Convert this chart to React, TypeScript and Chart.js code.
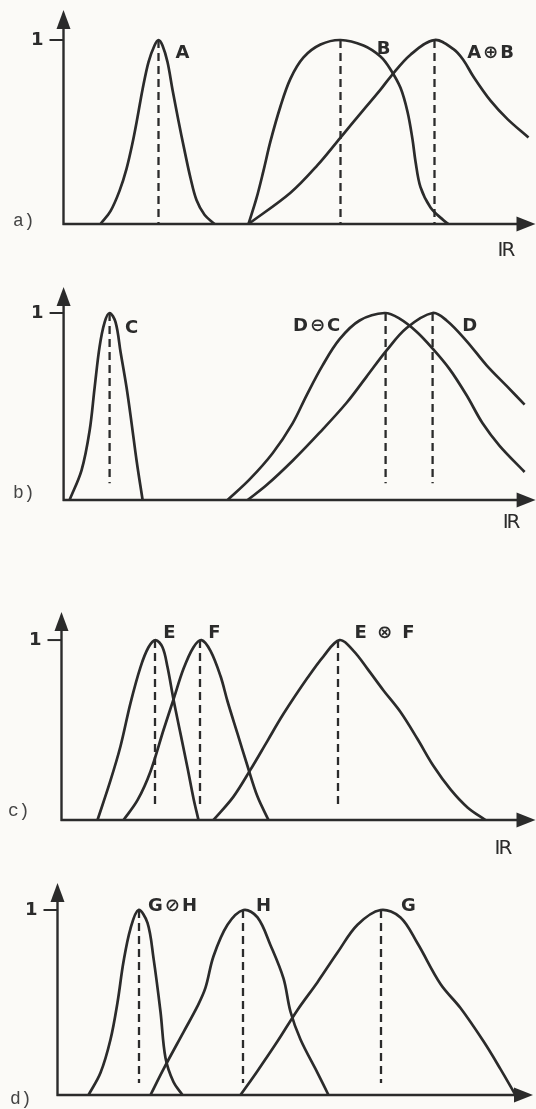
import React, { useEffect, useRef } from "react";
import { Chart, registerables } from "chart.js";

Chart.register(...registerables);

const INK = "#2b2b2b";
const PAPER = "#fbfaf7";

// ---------- panel tags ----------
const PANEL_TAGS = ["a)", "b)", "c)", "d)"];
const AXIS_NAME = "IR";

// ---------- a) A, B, A⊕B ----------
const A_x = [37, 47, 56, 63, 69, 74, 79, 85, 91, 95, 99, 104, 109, 115, 121, 127, 133, 141, 151];
const A_y = [0, 0.07, 0.18, 0.3, 0.44, 0.58, 0.73, 0.88, 0.97, 1, 0.97, 0.88, 0.73, 0.56, 0.4, 0.25, 0.13, 0.05, 0];
const B_x = [185, 193, 200, 207, 217, 227, 240, 257, 277, 300, 317, 327, 337, 344, 349, 352, 357, 367, 380, 385];
const B_y = [0, 0.14, 0.29, 0.45, 0.64, 0.79, 0.905, 0.975, 1, 0.97, 0.91, 0.84, 0.74, 0.61, 0.46, 0.34, 0.2, 0.09, 0.02, 0];
const AplusB_x = [185, 227, 254, 277, 300, 317, 327, 347, 371, 390, 400, 410, 427, 444, 465];
const AplusB_y = [0, 0.17, 0.32, 0.47, 0.62, 0.73, 0.8, 0.92, 1, 0.95, 0.89, 0.8, 0.67, 0.57, 0.47];
const A_PEAKS = [95, 277, 371];
const A_LABELS = ["A", "B", "A⊕B"];
const A_LABEL_X = [119, 320, 427];
const A_LABEL_Y = [0.93, 0.95, 0.93];

// ---------- b) C, D⊖C, D ----------
const C_x = [6, 18, 26, 31, 36, 41, 46, 52, 57, 63, 68, 73, 79];
const C_y = [0, 0.16, 0.37, 0.6, 0.82, 0.95, 1, 0.95, 0.79, 0.6, 0.41, 0.21, 0];
const DminusC_x = [164, 186, 209, 229, 243, 259, 276, 296, 321, 336, 353, 369, 386, 403, 419, 436, 461];
const DminusC_y = [0, 0.11, 0.25, 0.41, 0.56, 0.72, 0.86, 0.96, 1, 0.97, 0.9, 0.81, 0.7, 0.56, 0.41, 0.29, 0.15];
const D_x = [184, 203, 229, 256, 283, 303, 323, 343, 369, 383, 403, 423, 443, 461];
const D_y = [0, 0.08, 0.21, 0.36, 0.52, 0.66, 0.8, 0.92, 1, 0.96, 0.85, 0.72, 0.61, 0.51];
const B_PEAKS = [46, 322, 369];
const B_LABELS = ["C", "D⊖C", "D"];
const B_LABEL_X = [68, 253, 406];
const B_LABEL_Y = [0.92, 0.93, 0.93];

// ---------- c) E, F, E⊗F ----------
const E_x = [36, 49, 59, 69, 79, 87, 94, 101, 106, 112, 119, 126, 132, 137];
const E_y = [0, 0.22, 0.41, 0.65, 0.85, 0.96, 1, 0.96, 0.85, 0.67, 0.48, 0.29, 0.12, 0];
const F_x = [62, 76, 89, 102, 112, 122, 132, 140, 149, 159, 166, 176, 186, 196, 207];
const F_y = [0, 0.11, 0.27, 0.5, 0.67, 0.84, 0.96, 1, 0.94, 0.8, 0.66, 0.48, 0.3, 0.13, 0];
const EtimesF_x = [152, 172, 189, 206, 222, 246, 262, 278, 292, 306, 322, 339, 356, 372, 389, 406, 424];
const EtimesF_y = [0, 0.13, 0.28, 0.44, 0.59, 0.79, 0.91, 1, 0.94, 0.84, 0.72, 0.6, 0.45, 0.3, 0.17, 0.07, 0];
const C_PEAKS = [93.5, 138.5, 276.5];
const C_LABELS = ["E", "F", "E ⊗ F"];
const C_LABEL_X = [108, 153, 323];
const C_LABEL_Y = [1.04, 1.04, 1.04];

// ---------- d) G⊘H, H, G ----------
const GdivH_x = [31, 43, 53, 60, 66, 73, 81, 90, 96, 103, 108, 116, 125];
const GdivH_y = [0, 0.12, 0.3, 0.5, 0.72, 0.9, 1, 0.93, 0.74, 0.45, 0.2, 0.07, 0];
const H_x = [93, 106, 126, 140, 148, 156, 170, 186, 200, 213, 226, 233, 243, 260, 271];
const H_y = [0, 0.14, 0.34, 0.48, 0.58, 0.75, 0.92, 1, 0.96, 0.81, 0.63, 0.45, 0.3, 0.12, 0];
const G_x = [183, 200, 220, 240, 260, 280, 300, 323, 343, 360, 383, 403, 426, 443, 458];
const G_y = [0, 0.13, 0.29, 0.46, 0.61, 0.77, 0.92, 1, 0.96, 0.82, 0.6, 0.47, 0.29, 0.14, 0];
const D_PEAKS = [81.5, 185.5, 323.5];
const D_LABELS = ["G⊘H", "H", "G"];
const D_LABEL_X = [115, 206, 351];
const D_LABEL_Y = [1.02, 1.02, 1.02];

const DASH_BOTTOM = [0, 0.09, 0.07, 0.065];

// ---------- layout (not data) ----------
const PANELS = [
  {
    top: 0, height: 270, pad: { left: 63.5, right: 0.5, top: 10, bottom: 46 }, xMax: 472, yMax: 1.163,
    curves: [[A_x, A_y], [B_x, B_y], [AplusB_x, AplusB_y]], peaks: A_PEAKS,
    labels: A_LABELS, labelX: A_LABEL_X, labelY: A_LABEL_Y,
    tagPos: [13, -3], namePos: [-30, 27],
  },
  {
    top: 270, height: 300, pad: { left: 63.6, right: 0.4, top: 17, bottom: 70 }, xMax: 472, yMax: 1.139,
    curves: [[C_x, C_y], [DminusC_x, DminusC_y], [D_x, D_y]], peaks: B_PEAKS,
    labels: B_LABELS, labelX: B_LABEL_X, labelY: B_LABEL_Y,
    tagPos: [13, -7], namePos: [-25, 23],
  },
  {
    top: 570, height: 300, pad: { left: 61.5, right: 0.5, top: 42, bottom: 50 }, xMax: 474, yMax: 1.156,
    curves: [[E_x, E_y], [F_x, F_y], [EtimesF_x, EtimesF_y]], peaks: C_PEAKS,
    labels: C_LABELS, labelX: C_LABEL_X, labelY: C_LABEL_Y,
    tagPos: [8, -9], namePos: [-33, 29],
  },
  {
    top: 870, height: 239, pad: { left: 57.5, right: 3, top: 13, bottom: 14 }, xMax: 475.5, yMax: 1.146,
    curves: [[GdivH_x, GdivH_y], [H_x, H_y], [G_x, G_y]], peaks: D_PEAKS,
    labels: D_LABELS, labelX: D_LABEL_X, labelY: D_LABEL_Y,
    tagPos: [10, 4], namePos: [-29, 28],
  },
];

const LABEL_FONT = "bold 18px 'DejaVu Sans'";

const axesPlugin = {
  id: "fuzzyAxes",
  afterDatasetsDraw(chart: any, _args: any, opts: any) {
    const { ctx, scales } = chart;
    const x = scales.x;
    const y = scales.y;
    const x0 = x.getPixelForValue(0);
    const y0 = y.getPixelForValue(0);
    const xEnd = x.getPixelForValue(x.max);
    const yEnd = y.getPixelForValue(y.max);
    ctx.save();
    ctx.strokeStyle = INK;
    ctx.fillStyle = INK;
    ctx.lineWidth = 2.4;
    ctx.lineCap = "butt";
    ctx.beginPath();
    ctx.moveTo(x0 - 1, y0);
    ctx.lineTo(xEnd - 12, y0);
    ctx.moveTo(x0, y0 + 1);
    ctx.lineTo(x0, yEnd + 12);
    ctx.stroke();
    // arrowheads
    ctx.beginPath();
    ctx.moveTo(xEnd, y0);
    ctx.lineTo(xEnd - 19, y0 - 7.5);
    ctx.lineTo(xEnd - 19, y0 + 7.5);
    ctx.closePath();
    ctx.fill();
    ctx.beginPath();
    ctx.moveTo(x0, yEnd);
    ctx.lineTo(x0 - 7, yEnd + 19);
    ctx.lineTo(x0 + 7, yEnd + 19);
    ctx.closePath();
    ctx.fill();
    // tick at 1
    const y1 = y.getPixelForValue(1);
    ctx.lineWidth = 2;
    ctx.beginPath();
    ctx.moveTo(x0 - 14, y1);
    ctx.lineTo(x0, y1);
    ctx.stroke();
    ctx.font = LABEL_FONT;
    ctx.textAlign = "right";
    ctx.textBaseline = "middle";
    ctx.fillText("1", x0 - 20, y1);
    // curve labels
    ctx.textAlign = "center";
    (ctx as any).letterSpacing = "2px";
    opts.labels.forEach((t: string, i: number) => {
      ctx.fillText(t, x.getPixelForValue(opts.labelX[i]) + 1, y.getPixelForValue(opts.labelY[i]));
    });
    // axis name
    ctx.font = "20px 'DejaVu Sans'";
    (ctx as any).letterSpacing = "-2px";
    ctx.fillText(opts.name, xEnd + opts.namePos[0], y0 + opts.namePos[1]);
    (ctx as any).letterSpacing = "0px";
    // panel tag
    ctx.fillStyle = "#444";
    ctx.font = "18px 'Liberation Mono'";
    ctx.textAlign = "left";
    ctx.fillText(opts.tag, opts.tagPos[0], y0 + opts.tagPos[1]);
    ctx.restore();
  },
};

function Panel({ cfg, index }: { cfg: any; index: number }) {
  const ref = useRef<HTMLCanvasElement>(null);
  useEffect(() => {
    if (!ref.current) return;
    const curveSets = cfg.curves.map(([xs, ys]: number[][]) => ({
      data: xs.map((v: number, i: number) => ({ x: v, y: ys[i] })),
      borderColor: INK,
      borderWidth: 2.7,
      pointRadius: 0,
      tension: 0.35,
      fill: false,
      clip: false,
    }));
    const dashSets = cfg.peaks.map((p: number) => ({
      data: [
        { x: p, y: 1 },
        { x: p, y: DASH_BOTTOM[index] },
      ],
      borderColor: INK,
      borderWidth: 2.3,
      borderDash: [8, 5],
      pointRadius: 0,
      fill: false,
      clip: false,
    }));
    const chart = new Chart(ref.current, {
      type: "line",
      data: { datasets: [...curveSets, ...dashSets] },
      options: {
        animation: false,
        responsive: true,
        maintainAspectRatio: false,
        events: [],
        layout: { padding: cfg.pad },
        plugins: {
          legend: { display: false },
          tooltip: { enabled: false },
          fuzzyAxes: {
            labels: cfg.labels,
            labelX: cfg.labelX,
            labelY: cfg.labelY,
            tag: PANEL_TAGS[index],
            tagPos: cfg.tagPos,
            name: AXIS_NAME,
            namePos: cfg.namePos,
          },
        } as any,
        scales: {
          x: { type: "linear", min: 0, max: cfg.xMax, display: false },
          y: { type: "linear", min: 0, max: cfg.yMax, display: false },
        },
      },
      plugins: [axesPlugin],
    });
    return () => chart.destroy();
  }, []);
  return (
    <div style={{ position: "absolute", left: 0, top: cfg.top, width: 536, height: cfg.height }}>
      <canvas ref={ref} />
    </div>
  );
}

export default function App() {
  return (
    <div style={{ position: "absolute", left: 0, top: 0, width: 536, height: 1109, background: PAPER, overflow: "hidden" }}>
      {PANELS.map((p, i) => (
        <Panel key={i} cfg={p} index={i} />
      ))}
    </div>
  );
}
